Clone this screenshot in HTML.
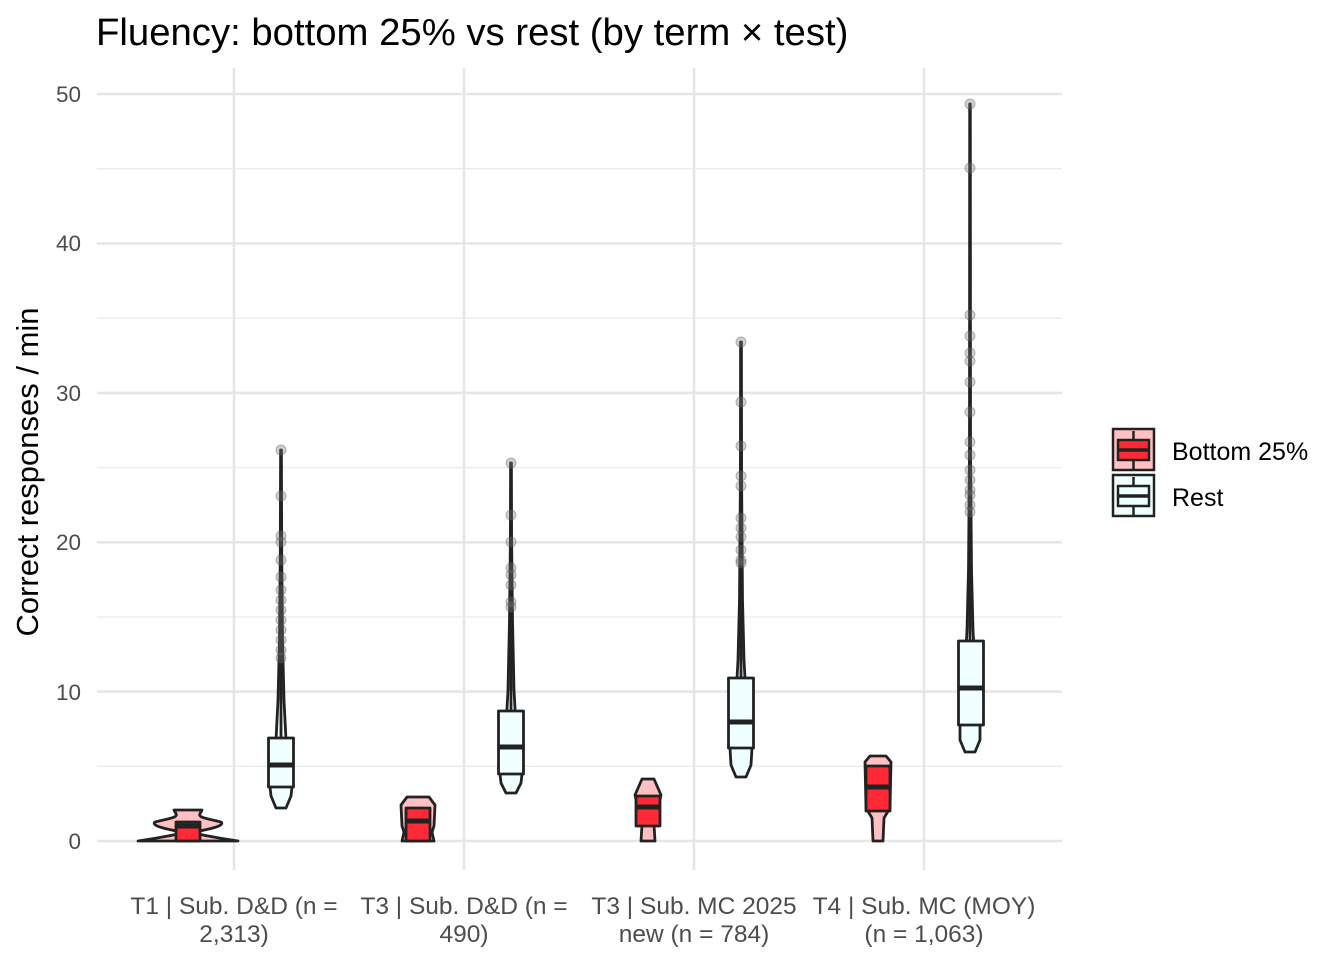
<!DOCTYPE html>
<html><head><meta charset="utf-8"><style>
body{margin:0;background:#fff;}
svg{font-family:"Liberation Sans",Arial,sans-serif;}
</style></head><body>
<svg width="1344" height="960" viewBox="0 0 1344 960" xmlns="http://www.w3.org/2000/svg">
<rect width="1344" height="960" fill="#fff"/>
<text x="96" y="45" font-size="38.3" fill="#000">Fluency: bottom 25% vs rest (by term × test)</text>
<g stroke="#ebebeb" stroke-width="1.3">
<line x1="97" x2="1062" y1="766.3" y2="766.3"/><line x1="97" x2="1062" y1="617" y2="617"/><line x1="97" x2="1062" y1="467.6" y2="467.6"/><line x1="97" x2="1062" y1="318.2" y2="318.2"/><line x1="97" x2="1062" y1="168.7" y2="168.7"/>
</g>
<g stroke="#e6e6e6" stroke-width="2.6">
<line x1="97" x2="1062" y1="841" y2="841"/><line x1="97" x2="1062" y1="691.6" y2="691.6"/><line x1="97" x2="1062" y1="542.3" y2="542.3"/><line x1="97" x2="1062" y1="392.9" y2="392.9"/><line x1="97" x2="1062" y1="243.5" y2="243.5"/><line x1="97" x2="1062" y1="94" y2="94"/>
<line x1="234" x2="234" y1="68" y2="870"/><line x1="464" x2="464" y1="68" y2="870"/><line x1="694" x2="694" y1="68" y2="870"/><line x1="924" x2="924" y1="68" y2="870"/>
</g>
<g font-size="22.5" fill="#4d4d4d" text-anchor="end">
<text x="81" y="849">0</text><text x="81" y="700">10</text><text x="81" y="550">20</text><text x="81" y="401">30</text><text x="81" y="251">40</text><text x="81" y="102">50</text>
</g>
<text transform="translate(38,472) rotate(-90)" font-size="31" text-anchor="middle" fill="#000">Correct responses / min</text>
<g font-size="24.5" fill="#4d4d4d" text-anchor="middle">
<text x="234" y="914">T1 | Sub. D&amp;D (n =</text><text x="234" y="942">2,313)</text>
<text x="464" y="914">T3 | Sub. D&amp;D (n =</text><text x="464" y="942">490)</text>
<text x="694" y="914">T3 | Sub. MC 2025</text><text x="694" y="942">new (n = 784)</text>
<text x="924" y="914">T4 | Sub. MC (MOY)</text><text x="924" y="942">(n = 1,063)</text>
</g>
<g stroke="#222" stroke-width="2.8" stroke-linejoin="round">
<path d="M138,841 C170,836 180,834 183,832 C170,830 150,826 155,822 C170,818 180,818 175,812 L174,810 L202,810 L201,812 C196,818 206,818 221,822 C226,826 206,830 193,832 C196,834 206,836 238,841 Z" fill="#ffc0c3"/>
<path d="M402,841 L404,832 L402,826 L401,805 L407,797 L429,797 L435,805 L434,826 L432,832 L434,841 Z" fill="#ffc0c3"/>
<path d="M641,841 L642,825 L640,818 L635,795 L642,779 L654,779 L661,795 L656,818 L654,825 L655,841 Z" fill="#ffc0c3"/>
<path d="M873,841 L872,818 L866,808 L865,762 L870,756 L886,756 L891,762 L890,808 L884,818 L883,841 Z" fill="#ffc0c3"/>
<rect x="176" y="822" width="24" height="19" fill="#ff2a35"/>
<rect x="406" y="808" width="24" height="33" fill="#ff2a35"/>
<rect x="636" y="796" width="24" height="30" fill="#ff2a35"/>
<rect x="866" y="766" width="24" height="45" fill="#ff2a35"/>
<line x1="176" x2="200" y1="826" y2="826" stroke-width="5"/>
<line x1="406" x2="430" y1="821" y2="821" stroke-width="5"/>
<line x1="636" x2="660" y1="807" y2="807" stroke-width="5"/>
<line x1="866" x2="890" y1="787" y2="787" stroke-width="5"/>
<path d="M276,808 L271,796 L270,787 L275,760 L278,700 L279.5,640 L280.3,550 L280.6,450 L281.4,450 L281.7,550 L282.5,640 L284,700 L287,760 L292,787 L291,796 L286,808 Z" fill="#f0ffff"/>
<path d="M506,793 L501,783 L500,774 L505,745 L508,690 L509.5,620 L510.4,540 L510.6,463 L511.4,463 L511.6,540 L512.5,620 L514,690 L517,745 L522,774 L521,783 L516,793 Z" fill="#f0ffff"/>
<path d="M736,777 L731,765 L730,748 L735,715 L738,660 L739.5,600 L740.4,480 L740.6,342 L741.4,342 L741.6,480 L742.5,600 L744,660 L747,715 L752,748 L751,765 L746,777 Z" fill="#f0ffff"/>
<path d="M965,752 L960,740 L960,725 L964,690 L967,630 L968.5,570 L969.5,450 L969.7,104 L970.3,104 L970.5,450 L971.5,570 L973,630 L976,690 L980,725 L980,740 L975,752 Z" fill="#f0ffff"/>
<rect x="268.5" y="738" width="25" height="49" fill="#f0ffff"/>
<rect x="498.5" y="711" width="25" height="63" fill="#f0ffff"/>
<rect x="728.5" y="678" width="25" height="70" fill="#f0ffff"/>
<rect x="958.5" y="641" width="25" height="84" fill="#f0ffff"/>
<line x1="268.5" x2="293.5" y1="765" y2="765" stroke-width="5"/>
<line x1="498.5" x2="523.5" y1="747" y2="747" stroke-width="5"/>
<line x1="728.5" x2="753.5" y1="722" y2="722" stroke-width="5"/>
<line x1="958.5" x2="983.5" y1="688" y2="688" stroke-width="5"/>
<line x1="281" x2="281" y1="450" y2="738"/>
<line x1="511" x2="511" y1="463" y2="711"/>
<line x1="741" x2="741" y1="342" y2="678"/>
<line x1="970" x2="970" y1="104" y2="641"/>
</g>
<g fill="#777" fill-opacity="0.35" stroke="#555" stroke-opacity="0.4" stroke-width="1">
<circle cx="281" cy="450" r="5"/><circle cx="281" cy="496" r="5"/><circle cx="281" cy="536" r="5"/><circle cx="281" cy="542" r="5"/><circle cx="281" cy="560" r="5"/><circle cx="281" cy="577" r="5"/><circle cx="281" cy="590" r="5"/><circle cx="281" cy="600" r="5"/><circle cx="281" cy="610" r="5"/><circle cx="281" cy="620" r="5"/><circle cx="281" cy="630" r="5"/><circle cx="281" cy="640" r="5"/><circle cx="281" cy="650" r="5"/><circle cx="281" cy="658" r="5"/>
<circle cx="511" cy="463" r="5"/><circle cx="511" cy="515" r="5"/><circle cx="511" cy="542" r="5"/><circle cx="511" cy="568" r="5"/><circle cx="511" cy="575" r="5"/><circle cx="511" cy="585" r="5"/><circle cx="511" cy="602" r="5"/><circle cx="511" cy="607" r="5"/>
<circle cx="741" cy="342" r="5"/><circle cx="741" cy="402" r="5"/><circle cx="741" cy="446" r="5"/><circle cx="741" cy="476" r="5"/><circle cx="741" cy="486" r="5"/><circle cx="741" cy="518" r="5"/><circle cx="741" cy="528" r="5"/><circle cx="741" cy="537" r="5"/><circle cx="741" cy="550" r="5"/><circle cx="741" cy="560" r="5"/><circle cx="741" cy="563" r="5"/>
<circle cx="970" cy="104" r="5"/><circle cx="970" cy="168" r="5"/><circle cx="970" cy="315" r="5"/><circle cx="970" cy="336" r="5"/><circle cx="970" cy="353" r="5"/><circle cx="970" cy="361" r="5"/><circle cx="970" cy="382" r="5"/><circle cx="970" cy="412" r="5"/><circle cx="970" cy="442" r="5"/><circle cx="970" cy="455" r="5"/><circle cx="970" cy="470" r="5"/><circle cx="970" cy="480" r="5"/><circle cx="970" cy="490" r="5"/><circle cx="970" cy="495" r="5"/><circle cx="970" cy="505" r="5"/><circle cx="970" cy="512" r="5"/>
</g>
<g stroke="#222" stroke-width="2.5">
<rect x="1113" y="429" width="41" height="41" fill="#ffc0c3"/>
<rect x="1118" y="440" width="31" height="20" fill="#ff2a35"/>
<line x1="1118" x2="1149" y1="450" y2="450" stroke-width="3.5"/><line x1="1133.5" x2="1133.5" y1="431" y2="440"/><line x1="1133.5" x2="1133.5" y1="460" y2="469"/>
<rect x="1113" y="475" width="41" height="41" fill="#f0ffff"/>
<rect x="1118" y="486" width="31" height="20" fill="#f0ffff"/>
<line x1="1118" x2="1149" y1="496" y2="496" stroke-width="3.5"/><line x1="1133.5" x2="1133.5" y1="477" y2="486"/><line x1="1133.5" x2="1133.5" y1="506" y2="515"/>
</g>
<text x="1172" y="460" font-size="25" fill="#000">Bottom 25%</text>
<text x="1172" y="506" font-size="25" fill="#000">Rest</text>
</svg>
</body></html>
